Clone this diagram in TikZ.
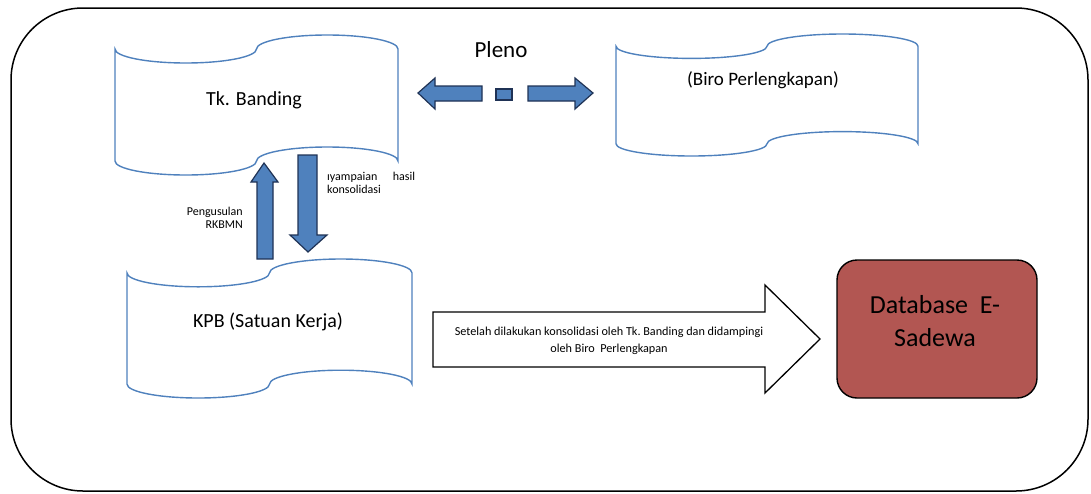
\documentclass[tikz,border=0pt]{standalone}
\usepackage{fontspec}
\setmainfont{Carlito}
\definecolor{tapeblue}{RGB}{79,129,189}
\definecolor{arrowfill}{RGB}{79,129,189}
\definecolor{arrowedge}{RGB}{31,50,85}
\definecolor{dbred}{RGB}{178,86,82}
\newcommand\tapeshape[4]{%
  \pgfmathsetmacro\tpw{(#3-#1)/4}%
  \pgfmathsetmacro\tph{(#4-#2)/10}%
  \draw[tapeline] (#1,#2+\tph)
    arc[start angle=180, delta angle=-180, x radius=\tpw, y radius=\tph]
    arc[start angle=180, delta angle=180, x radius=\tpw, y radius=\tph]
    -- (#3,#4-\tph)
    arc[start angle=0, delta angle=-180, x radius=\tpw, y radius=\tph]
    arc[start angle=0, delta angle=180, x radius=\tpw, y radius=\tph]
    -- cycle;}
\tikzset{
  tapeline/.style={draw=tapeblue, line width=1.4pt, fill=white},
  blockblue/.style={draw=arrowedge, fill=arrowfill, line width=1.2pt, line join=miter},
  blockwhite/.style={draw=black, fill=white, line width=1.3pt, line join=miter},
  bigtext/.style={font=\fontsize{20}{24}\selectfont, inner sep=0pt},
  smalltext/.style={font=\fontsize{12}{13}\selectfont, inner sep=0pt},
}
\begin{document}
\begin{tikzpicture}[x=1pt, y=-1pt]
\useasboundingbox (0,0) rectangle (1091,493);
% outer frame
\draw[line width=1.5pt, rounded corners=72pt] (11,8) rectangle (1088,491);

% tapes
\tapeshape{115}{35}{398}{175}
\tapeshape{616}{34}{918}{156}
\tapeshape{127}{259}{412}{398}

\node[bigtext] (tk) at (254,100) {Tk. Banding};
\node[bigtext, font=\fontsize{19}{23}\selectfont] (biro) at (763,80) {(Biro Perlengkapan)};
\node[bigtext] (kpb) at (268,322) {KPB (Satuan Kerja)};

% Pleno
\node[font=\fontsize{23}{27}\selectfont, inner sep=0pt] (pleno) at (501,50) {Pleno};
\draw[blockblue] (418,93) -- (435,78) -- (435,86) -- (482,86) -- (482,101) -- (435,101) -- (435,109) -- cycle;
\draw[blockblue] (496,89) rectangle (512,100);
\draw[blockblue] (593,93) -- (575,78) -- (575,86) -- (528,86) -- (528,101) -- (575,101) -- (575,109) -- cycle;

% vertical arrows
\draw[blockblue] (264,163) -- (278,182) -- (273,182) -- (273,259) -- (257,259) -- (257,182) -- (251,182) -- cycle;
\draw[blockblue] (308,252) -- (327,235) -- (317,235) -- (317,155) -- (298,155) -- (298,235) -- (290,235) -- cycle;

\node[smalltext, align=right, anchor=east] (lblup) at (243,218) {Pengusulan\\RKBMN};
\node[smalltext, text width=88pt, align=left, anchor=north west] (lbldown) at (327,172) {ıyampaian\hfill hasil\\konsolidasi};

% big arrow
\draw[blockwhite] (433,312) -- (765,312) -- (765,285) -- (820,339) -- (765,393) -- (765,367) -- (433,367) -- cycle;
\node[inner sep=0pt, font=\fontsize{12.2}{17}\selectfont, align=center] (note) at (609,341) {Setelah dilakukan konsolidasi oleh Tk.\ Banding dan didampingi\\oleh Biro\ \ Perlengkapan};

% database
\node[draw=black, line width=1.4pt, fill=dbred, rounded corners=20pt, minimum width=200pt, minimum height=138pt, inner sep=0pt] (dbbox) at (937,329) {};
\node[font=\fontsize{26}{33}\selectfont, align=center, inner sep=0pt] (db) at (935,321) {Database\ \ E-\\Sadewa};
\end{tikzpicture}
\end{document}
